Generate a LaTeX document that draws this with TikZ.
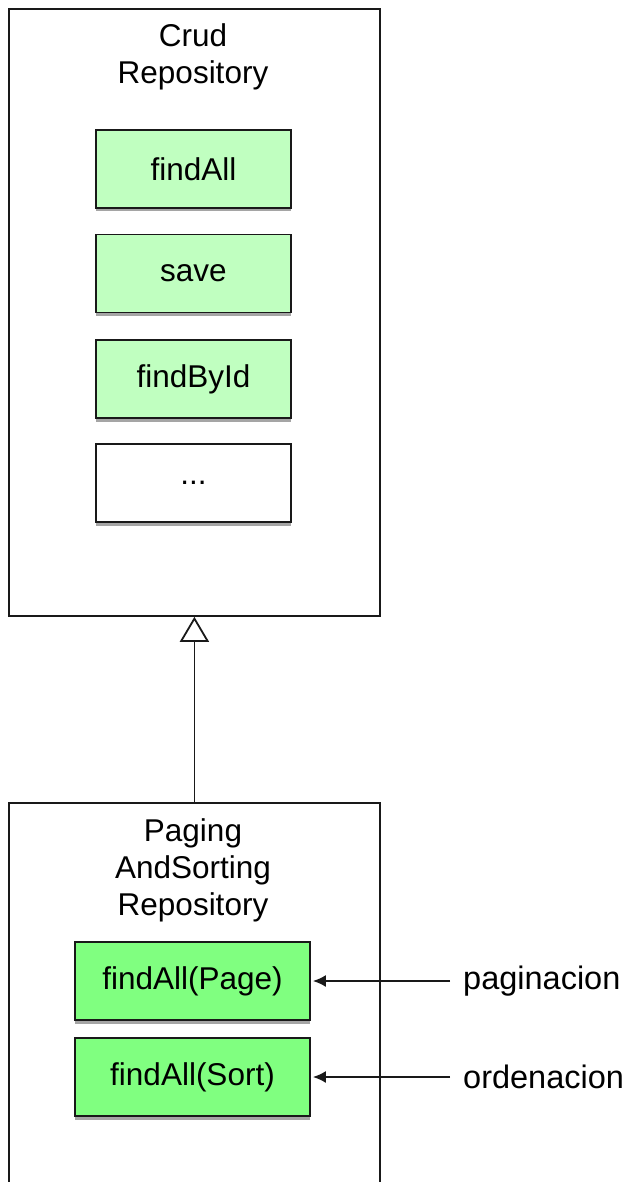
\documentclass[tikz,border=0pt]{standalone}
\usepackage{fontspec}
\setmainfont{Liberation Sans}
\usetikzlibrary{arrows.meta,shadows}
\definecolor{lightgreen}{RGB}{192,255,192}
\definecolor{brightgreen}{RGB}{128,255,128}
\definecolor{edge}{RGB}{25,25,25}
\begin{document}
\begin{tikzpicture}[x=1pt,y=-1pt,
  container/.style={draw=edge, line width=1.8pt, fill=white, inner sep=0pt, anchor=north west},
  title/.style={align=center, inner sep=0pt, anchor=north, font=\fontsize{31.5}{37}\selectfont},
  method/.style={draw=edge, line width=1.8pt, minimum height=78pt, inner sep=0pt,
    font=\fontsize{31.5}{36}\selectfont,
    drop shadow={shadow xshift=0pt, shadow yshift=-3.5pt, opacity=0.5, fill=black!70}},
  topmethod/.style={method, fill=lightgreen, minimum width=195pt},
  botmethod/.style={method, fill=brightgreen, minimum width=235pt},
  plain/.style={method, fill=white, minimum width=195pt},
  sidelabel/.style={anchor=west, inner sep=0pt, font=\fontsize{32.5}{36}\selectfont},
  inherit/.style={line width=1.8pt, draw=edge, -{Triangle[open, width=29pt, length=25pt, line width=1.8pt]}},
  call/.style={line width=1.8pt, draw=edge, -{Latex[length=13pt, width=12pt]}}
]
\useasboundingbox (0,0) rectangle (625,1182);
\clip (0,0) rectangle (625,1182);

% Crud Repository container
\node[container, minimum width=371pt, minimum height=607pt] (crud) at (8,8) {};
\node[title] (crudtitle) at (193,23) {Crud\\Repository};
\node[topmethod] (findall) at (193.5,169) {findAll};
\node[topmethod] (save) at (193.5,273.5) {save};
\node[topmethod] (findbyid) at (193.5,379) {findById};
\node[plain] (more) at (193.5,483) {...};

% PagingAndSorting Repository container
\node[container, minimum width=371pt, minimum height=420pt] (pasr) at (8,802) {};
\node[title] (pasrtitle) at (193,818) {Paging\\AndSorting\\Repository};
\node[botmethod] (fpage) at (192.5,981) {findAll(Page)};
\node[botmethod] (fsort) at (192.5,1077) {findAll(Sort)};

% side labels
\node[sidelabel] (pag) at (463,981) {paginacion};
\node[sidelabel] (ord) at (463,1077) {ordenacion};

% connectors
\draw[inherit] (pasr.north) -- (crud.south);
\draw[call] ([xshift=-13pt]pag.west) -- ([xshift=2pt]fpage.east);
\draw[call] ([xshift=-13pt]ord.west) -- ([xshift=2pt]fsort.east);
\end{tikzpicture}
\end{document}
